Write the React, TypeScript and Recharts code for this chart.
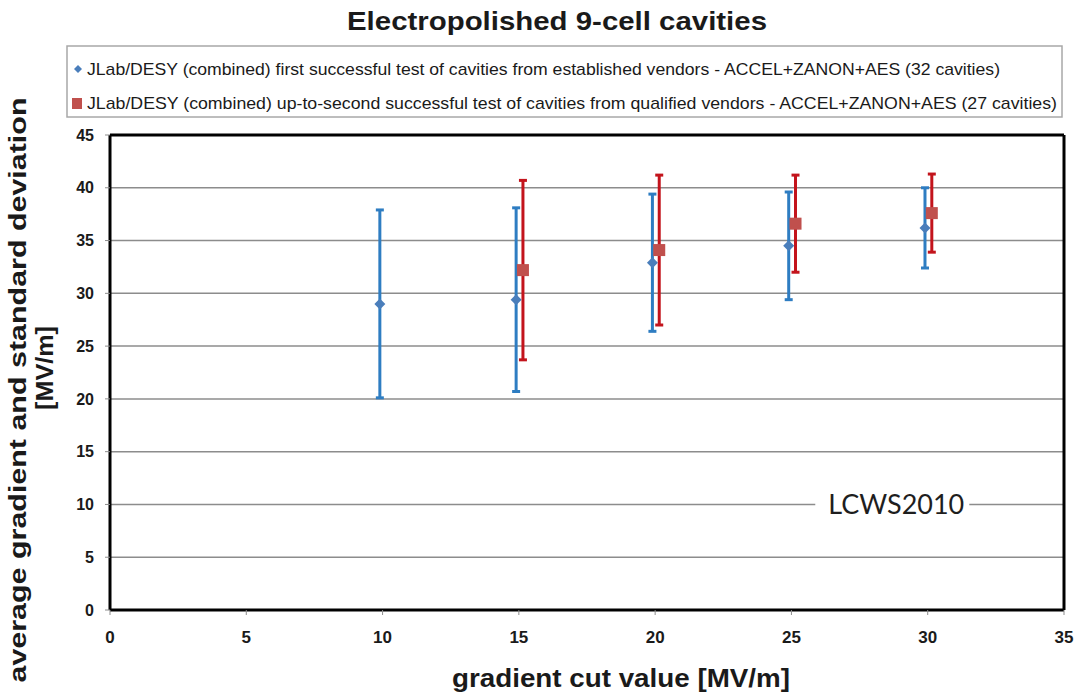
import {
  ScatterChart,
  Scatter,
  XAxis,
  YAxis,
  CartesianGrid,
  ErrorBar,
  Legend,
  ReferenceLine,
  ReferenceDot,
  Label,
} from 'recharts';

// series 1: first successful test, established vendors (32 cavities)
const blueX = [9.9, 14.9, 19.9, 24.9, 29.9];
const blueMean = [29.0, 29.4, 32.9, 34.5, 36.2];
const blueSd = [8.9, 8.7, 6.5, 5.1, 3.8];

// series 2: up-to-second successful test, qualified vendors (27 cavities)
const redX = [15.15, 20.15, 25.15, 30.15];
const redMean = [32.2, 34.1, 36.6, 37.6];
const redSd = [8.5, 7.1, 4.6, 3.7];

const xTicks = [0, 5, 10, 15, 20, 25, 30, 35];
const yTicks = [0, 5, 10, 15, 20, 25, 30, 35, 40, 45];

const title = 'Electropolished 9-cell cavities';
const blueName =
  'JLab/DESY (combined) first successful test of cavities from established  vendors - ACCEL+ZANON+AES (32 cavities)';
const redName =
  'JLab/DESY (combined) up-to-second successful test of cavities from qualified vendors - ACCEL+ZANON+AES (27 cavities)';
const xTitle = 'gradient cut value [MV/m]';
const yTitle1 = 'average gradient and standard deviation';
const yTitle2 = '[MV/m]';
const stamp = 'LCWS2010';

const blueData = blueX.map((x, i) => ({ x, y: blueMean[i], err: blueSd[i] }));
const redData = redX.map((x, i) => ({ x, y: redMean[i], err: redSd[i] }));

const FONT = '"Liberation Sans", Arial, sans-serif';
const BLUE_MARK = '#4a7ebb';
const BLUE_BAR = '#2e7dc2';
const RED_MARK = '#c0504d';
const RED_BAR = '#c3141c';

const Diamond = (props: any) => {
  const { cx, cy } = props;
  const r = 5.5;
  return <path d={`M${cx},${cy - r}L${cx + r},${cy}L${cx},${cy + r}L${cx - r},${cy}Z`} fill={BLUE_MARK} />;
};

const Square = (props: any) => {
  const { cx, cy } = props;
  const s = 12;
  return <rect x={cx - s / 2} y={cy - s / 2} width={s} height={s} fill={RED_MARK} />;
};

// legend box sits at x 66..1062, y 45..117
const LegendBox = () => (
  <div style={{ width: 998, height: 90 }}>
    <svg width={998} height={74} style={{ display: 'block' }}>
      <rect x={1} y={1} width={995} height={71} fill="#fff" stroke="#a8a8a8" strokeWidth={1.5} />
      <path d="M12,20L16,24L12,28L8,24Z" fill={BLUE_MARK} />
      <text x={21} y={30} fontFamily={FONT} fontSize={17} fill="#1a1a1a" textLength={913} lengthAdjust="spacingAndGlyphs">
        {blueName}
      </text>
      <rect x={6} y={53} width={10} height={11} fill={RED_MARK} />
      <text x={21} y={64} fontFamily={FONT} fontSize={17} fill="#1a1a1a" textLength={970} lengthAdjust="spacingAndGlyphs">
        {redName}
      </text>
    </svg>
  </div>
);

const StampShape = (props: any) => {
  const { cx, cy } = props;
  return (
    <g>
      <rect x={cx - 77} y={cy - 14} width={154} height={28} fill="#fff" />
      <text
        x={cx + 4}
        y={cy + 10}
        textAnchor="middle"
        fontFamily='Lato, "Open Sans", sans-serif'
        fontSize={27}
        fill="#1e1e1e"
        textLength={136}
        lengthAdjust="spacingAndGlyphs"
      >
        {stamp}
      </text>
    </g>
  );
};

const YTitle = () => (
  <g fontFamily={FONT} fontWeight="bold" fill="#1a1a1a">
    <text
      transform="translate(26,390) rotate(-90)"
      textAnchor="middle"
      fontSize={24}
      textLength={585}
      lengthAdjust="spacingAndGlyphs"
    >
      {yTitle1}
    </text>
    <text transform="translate(53,368) rotate(-90)" textAnchor="middle" fontSize={24} textLength={84} lengthAdjust="spacingAndGlyphs">
      {yTitle2}
    </text>
  </g>
);

const XTitle = () => (
  <text
    x={621}
    y={687}
    textAnchor="middle"
    fontFamily={FONT}
    fontWeight="bold"
    fontSize={25}
    fill="#1a1a1a"
    textLength={338}
    lengthAdjust="spacingAndGlyphs"
  >
    {xTitle}
  </text>
);

export default function App() {
  return (
    <div style={{ position: 'absolute', left: 0, top: 0, width: 1077, height: 694, background: '#fff' }}>
      <svg width={1077} height={40} style={{ position: 'absolute', left: 0, top: 0 }}>
        <text
          x={557}
          y={30}
          textAnchor="middle"
          fontFamily={FONT}
          fontWeight="bold"
          fontSize={25}
          fill="#1a1a1a"
          textLength={420}
          lengthAdjust="spacingAndGlyphs"
        >
          {title}
        </text>
      </svg>
      <ScatterChart width={1077} height={694} margin={{ top: 45, right: 13, bottom: 54, left: 50 }}>
        <CartesianGrid vertical={false} stroke="#8c8c8c" strokeWidth={1.5} />
        <XAxis
          type="number"
          dataKey="x"
          domain={[0, 35]}
          ticks={xTicks}
          allowDataOverflow
          height={30}
          tickSize={5}
          tickMargin={16}
          axisLine={{ stroke: '#000', strokeWidth: 3 }}
          tickLine={{ stroke: '#8c8c8c' }}
          tick={{ fontFamily: FONT, fontSize: 17, fontWeight: 'bold', fill: '#1a1a1a' }}
        >
          <Label content={<XTitle />} />
        </XAxis>
        <YAxis
          type="number"
          dataKey="y"
          domain={[0, 45]}
          ticks={yTicks}
          allowDataOverflow
          width={60}
          tickSize={5}
          tickMargin={11}
          axisLine={{ stroke: '#000', strokeWidth: 3 }}
          tickLine={{ stroke: '#8c8c8c' }}
          tick={{ fontFamily: FONT, fontSize: 16, fontWeight: 'bold', fill: '#1a1a1a' }}
        >
          <Label content={<YTitle />} />
        </YAxis>
        <ReferenceLine y={45} stroke="#000" strokeWidth={3} />
        <ReferenceLine x={35} stroke="#000" strokeWidth={3} />
        <ReferenceDot x={28.7} y={10} shape={<StampShape />} />
        <Legend
          verticalAlign="top"
          align="left"
          content={<LegendBox />}
          wrapperStyle={{ left: 66, top: 45, width: 998 }}
        />
        <Scatter name={blueName} data={blueData} dataKey="y" shape={<Diamond />} isAnimationActive={false}>
          <ErrorBar dataKey="err" direction="y" width={4} stroke={BLUE_BAR} strokeWidth={3} isAnimationActive={false} />
        </Scatter>
        <Scatter name={redName} data={redData} dataKey="y" shape={<Square />} isAnimationActive={false}>
          <ErrorBar dataKey="err" direction="y" width={4} stroke={RED_BAR} strokeWidth={3} isAnimationActive={false} />
        </Scatter>
      </ScatterChart>
    </div>
  );
}
